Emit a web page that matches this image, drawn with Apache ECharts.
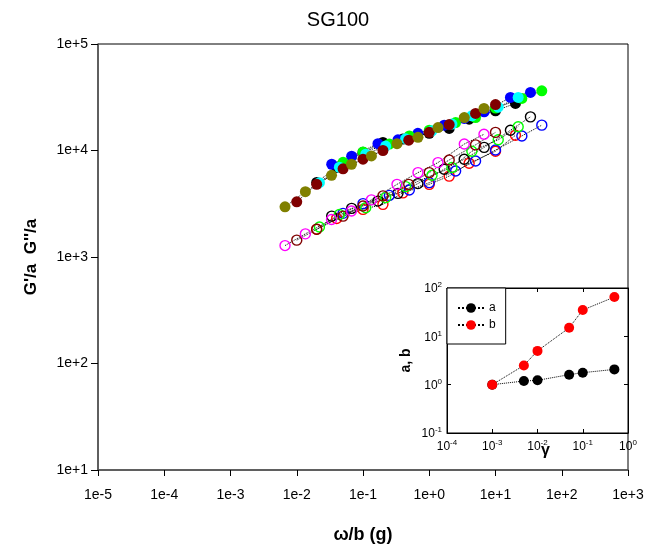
<!DOCTYPE html>
<html>
<head>
<meta charset="utf-8">
<script src="https://cdn.jsdelivr.net/npm/echarts@6/dist/echarts.min.js"></script>
<style>
html,body{margin:0;padding:0;background:#fff;}
#c{width:666px;height:551px;}
</style>
</head>
<body>
<div id="c"></div>
<script>
// ---- main plot: x values (omega/b) for each frequency sweep ----
const xSet1 = [0.00665, 0.0135, 0.0335, 0.067, 0.134, 0.326, 0.676, 1.355, 3.38, 6.70];
const xSet2 = [0.01, 0.02, 0.05, 0.1, 0.2, 0.49, 1.0, 2.0, 5.0, 10.0];
const xSet3 = [0.02, 0.04, 0.1, 0.2, 0.4, 1, 2, 4, 10, 20];
const xSet4 = [0.0337, 0.0674, 0.168, 0.337, 0.674, 1.68, 3.37, 6.74, 16.8, 33.7];
const xSet5 = [0.022, 0.044, 0.11, 0.22, 0.44, 1.1, 2.2, 4.4, 11, 22];
const xSet6 = [0.05, 0.1, 0.25, 0.5, 1, 2.5, 5, 10, 25, 50];

// ---- G'/a (filled symbols) ----
const gpOlive  = [2960, 4110, 5850, 7430, 8890, 11600, 13300, 16400, 20400, 24800];
const gpMaroon = [3300, 4810, 6730, 8280, 10000, 12500, 14800, 17500, 22300, 27000];
const gpBlack  = [5020, 6960, 9630, 11900, 12800, 14500, 16100, 19700, 23600, 27700];
const gpBlue   = [7430, 8830, 11600, 12600, 14500, 17300, 20000, 23100, 31500, 35100];
const gpCyan   = [4990, 6960, 9220, 11000, 12900, 15300, 17700, 21200, 25500, 31500];
const gpGreen  = [7750, 9680, 11500, 13700, 15500, 18300, 20400, 25000, 30800, 36300];

// ---- G''/a (open symbols) ----
const gppMagenta = [1280, 1650, 2250, 2700, 3440, 4810, 6200, 7700, 11500, 14200];
const gppMaroon  = [1440, 1820, 2420, 3010, 3750, 4810, 6200, 8150, 11300, 14800];
const gppRed     = [1820, 2300, 2800, 3120, 4000, 4810, 5750, 7590, 9840, 13900];
const gppBlack   = [2420, 2860, 3350, 3960, 4890, 6670, 8280, 10700, 15500, 20700];
const gppGreen   = [1910, 2510, 2900, 3610, 4580, 5850, 6920, 9840, 12600, 16700];
const gppBlue    = [2570, 3170, 3790, 4260, 4990, 6430, 7980, 10100, 13700, 17300];

// ---- inset: shift factors vs strain ----
const gammaVals = [0.001, 0.005, 0.01, 0.05, 0.1, 0.5];
const aVals = [1.0, 1.19, 1.23, 1.61, 1.77, 2.07];
const bVals = [1.0, 2.5, 5.0, 15, 35, 65];

const FONT = 'Liberation Sans, Arial, sans-serif';

function zip(xs, ys){ return xs.map((x,i)=>[x, ys[i]]); }
function mainSeries(name, xs, ys, color, filled){
  return {
    name: name, type: 'line', xAxisIndex: 0, yAxisIndex: 0,
    data: zip(xs, ys), symbol: 'circle',
    symbolSize: filled ? 11 : 10,
    showSymbol: true,
    lineStyle: {color: '#000', width: 1, type: 'dotted'},
    itemStyle: filled ? {color: color, borderWidth: 0}
                      : {color: 'rgba(255,255,255,0)', borderColor: color, borderWidth: 1.4},
    emphasis: {disabled: true},
    z: 2
  };
}
function expLabel(v){
  const e = Math.round(Math.log10(v));
  return '1e' + (e >= 0 ? '+' + e : '' + e);
}
function supLabel(v){
  const e = Math.round(Math.log10(v));
  return '{b|10}{s|' + e + '}';
}
const supRich = {
  b: {fontSize: 12, fontFamily: FONT, color: '#000', lineHeight: 14, verticalAlign: 'bottom'},
  s: {fontSize: 8, fontFamily: FONT, color: '#000', lineHeight: 14, verticalAlign: 'top'}
};

const series = [
  mainSeries('gpBlack', xSet3, gpBlack, '#000000', true),
  mainSeries('gpBlue', xSet4, gpBlue, '#0000ff', true),
  mainSeries('gpGreen', xSet6, gpGreen, '#00ff00', true),
  mainSeries('gpCyan', xSet5, gpCyan, '#00ffff', true),
  mainSeries('gpMaroon', xSet2, gpMaroon, '#800000', true),
  mainSeries('gpOlive', xSet1, gpOlive, '#808000', true),
  mainSeries('gppRed', xSet3, gppRed, '#ff0000', false),
  mainSeries('gppBlack', xSet4, gppBlack, '#000000', false),
  mainSeries('gppBlue', xSet6, gppBlue, '#0000ff', false),
  mainSeries('gppGreen', xSet5, gppGreen, '#00ff00', false),
  mainSeries('gppMaroon', xSet2, gppMaroon, '#800000', false),
  mainSeries('gppMagenta', xSet1, gppMagenta, '#ff00ff', false),
  {
    name: 'a', type: 'line', xAxisIndex: 1, yAxisIndex: 1,
    data: zip(gammaVals, aVals), symbol: 'circle', symbolSize: 10,
    lineStyle: {color: '#000', width: 1, type: 'dotted'},
    itemStyle: {color: '#000'}, z: 5
  },
  {
    name: 'b', type: 'line', xAxisIndex: 1, yAxisIndex: 1,
    data: zip(gammaVals, bVals), symbol: 'circle', symbolSize: 10,
    lineStyle: {color: '#000', width: 1, type: 'dotted'},
    itemStyle: {color: '#ff0000'}, z: 5
  }
];

const chart = echarts.init(document.getElementById('c'), null, {renderer: 'canvas'});
chart.setOption({
  animation: false,
  backgroundColor: '#fff',
  textStyle: {fontFamily: FONT},
  grid: [
    {left: 98, top: 44, width: 530, height: 426, show: true, borderColor: '#000', borderWidth: 1, backgroundColor: 'transparent'},
    {left: 447, top: 288, width: 181, height: 145, show: true, borderColor: '#000', borderWidth: 1, backgroundColor: '#fff', z: 4}
  ],
  xAxis: [
    {
      type: 'log', logBase: 10, gridIndex: 0, min: 1e-5, max: 1e3, splitNumber: 8,
      axisLine: {show: true, lineStyle: {color: '#555', width: 1.5}},
      axisTick: {show: true, length: 6, lineStyle: {color: '#000'}},
      splitLine: {show: false}, minorTick: {show: false},
      axisLabel: {formatter: expLabel, fontSize: 14, color: '#000', margin: 18, fontFamily: FONT},
      name: 'ω/b (g)', nameLocation: 'middle', nameGap: 56, nameMoveOverlap: false,
      nameTextStyle: {fontSize: 18, fontWeight: 'bold', color: '#000', fontFamily: FONT}
    },
    {
      type: 'log', logBase: 10, gridIndex: 1, min: 1e-4, max: 1, splitNumber: 4,
      axisLine: {show: true, lineStyle: {color: '#000', width: 1}},
      axisTick: {show: true, inside: true, length: 4, lineStyle: {color: '#000'}},
      splitLine: {show: false},
      axisLabel: {formatter: supLabel, rich: supRich, margin: 6},
      name: 'γ', nameLocation: 'middle', nameGap: 10, nameMoveOverlap: false,
      nameTextStyle: {fontSize: 16, fontWeight: 'bold', color: '#000', fontFamily: FONT, padding: [0, 0, 0, 16]},
      z: 6
    },
    {
      type: 'log', logBase: 10, gridIndex: 1, min: 1e-4, max: 1, splitNumber: 4, position: 'top',
      axisLine: {show: true, lineStyle: {color: '#000', width: 1}},
      axisTick: {show: true, inside: true, length: 4, lineStyle: {color: '#000'}},
      splitLine: {show: false}, axisLabel: {show: false}, z: 6
    }
  ],
  yAxis: [
    {
      type: 'log', logBase: 10, gridIndex: 0, min: 10, max: 1e5, splitNumber: 4,
      axisLine: {show: true, lineStyle: {color: '#555', width: 1.5}},
      axisTick: {show: true, length: 7, lineStyle: {color: '#000'}},
      splitLine: {show: false}, minorTick: {show: false},
      axisLabel: {formatter: expLabel, fontSize: 14, color: '#000', margin: 10, fontFamily: FONT},
      name: "G'/a  G''/a", nameLocation: 'middle', nameGap: 58, nameMoveOverlap: false,
      nameTextStyle: {fontSize: 17, fontWeight: 'bold', color: '#000', fontFamily: FONT}
    },
    {
      type: 'log', logBase: 10, gridIndex: 1, min: 0.1, max: 100, splitNumber: 3,
      axisLine: {show: true, lineStyle: {color: '#000', width: 1}},
      axisTick: {show: true, inside: true, length: 4, lineStyle: {color: '#000'}},
      splitLine: {show: false},
      axisLabel: {formatter: supLabel, rich: supRich, margin: 5},
      name: 'a, b', nameLocation: 'middle', nameGap: 34, nameMoveOverlap: false,
      nameTextStyle: {fontSize: 14, fontWeight: 'bold', color: '#000', fontFamily: FONT},
      z: 6
    },
    {
      type: 'log', logBase: 10, gridIndex: 1, min: 0.1, max: 100, splitNumber: 3, position: 'right',
      axisLine: {show: true, lineStyle: {color: '#000', width: 1}},
      axisTick: {show: true, inside: true, length: 4, lineStyle: {color: '#000'}},
      splitLine: {show: false}, axisLabel: {show: false}, z: 6
    }
  ],
  legend: {
    data: ['a', 'b'], orient: 'vertical', left: 447, top: 288,
    padding: [14, 10, 13, 10], itemGap: 5, itemWidth: 26, itemHeight: 12,
    borderColor: '#000', borderWidth: 1, backgroundColor: '#fff',
    textStyle: {fontSize: 12, color: '#000', fontFamily: FONT},
    selectedMode: false, z: 7
  },
  graphic: [
    {type: 'text', x: 338, y: 20, z: 10,
     style: {text: 'SG100', fontSize: 20, fontFamily: FONT, fill: '#000', textAlign: 'center', textVerticalAlign: 'middle'}}
  ],
  series: series
});
</script>
</body>
</html>
